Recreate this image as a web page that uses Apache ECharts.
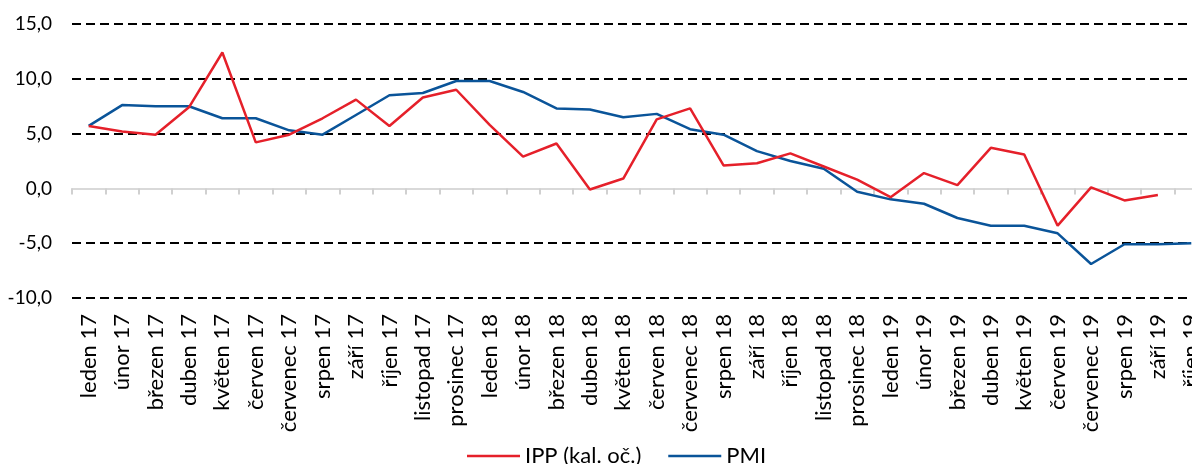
<!DOCTYPE html>
<html>
<head>
<meta charset="utf-8">
<script src="https://cdn.jsdelivr.net/npm/echarts@6/dist/echarts.min.js"></script>
<style>
html,body{margin:0;padding:0;background:#fff;}
#chart{width:1192px;height:464px;}
</style>
</head>
<body>
<div id="chart"></div>
<script>
const categories = ["leden 17","únor 17","březen 17","duben 17","květen 17","červen 17","červenec 17","srpen 17","září 17","říjen 17","listopad 17","prosinec 17",
  "leden 18","únor 18","březen 18","duben 18","květen 18","červen 18","červenec 18","srpen 18","září 18","říjen 18","listopad 18","prosinec 18",
  "leden 19","únor 19","březen 19","duben 19","květen 19","červen 19","červenec 19","srpen 19","září 19","říjen 19"];
const ipp = [5.7, 5.2, 4.9, 7.4, 12.4, 4.2, 4.9, 6.4, 8.1, 5.7, 8.3, 9.0,
  5.8, 2.9, 4.1, -0.1, 0.9, 6.3, 7.3, 2.1, 2.3, 3.2, 2.0, 0.8,
  -0.8, 1.4, 0.3, 3.7, 3.1, -3.4, 0.1, -1.1, -0.6, null];
const pmi = [5.7, 7.6, 7.5, 7.5, 6.4, 6.4, 5.3, 4.9, 6.7, 8.5, 8.7, 9.8,
  9.8, 8.8, 7.3, 7.2, 6.5, 6.8, 5.4, 4.9, 3.4, 2.5, 1.8, -0.3,
  -1.0, -1.4, -2.7, -3.4, -3.4, -4.1, -6.9, -5.1, -5.1, -5.0];
const seriesNames = ["IPP (kal. oč.)", "PMI"];
const yTicks = [-10, -5, 0, 5, 10, 15];

const chart = echarts.init(document.getElementById('chart'), null, {renderer: 'canvas'});
const font = 'Lato';
chart.setOption({
  animation: false,
  backgroundColor: '#fff',
  grid: {left: 72, top: 24, width: 1136, height: 274, outerBoundsMode: 'none', containLabel: false},
  legend: {
    left: 467, top: 445, padding: 0,
    itemWidth: 53, itemHeight: 2.5, itemGap: 27,
    textStyle: {fontFamily: font, fontSize: 22, color: '#000', lineHeight: 20},
    data: seriesNames.map(n => ({name: n, icon: 'rect'}))
  },
  xAxis: [
    {
      type: 'category', data: categories, position: 'bottom',
      axisLine: {show: false, onZero: false}, axisTick: {show: false},
      axisLabel: {rotate: 90, interval: 0, margin: 16, fontFamily: font, fontSize: 22, color: '#000'}
    },
    {
      type: 'category', data: categories, position: 'bottom',
      axisLine: {show: true, onZero: true, onZeroAxisIndex: 0, lineStyle: {color: '#d9d9d9', width: 2}},
      axisTick: {show: true, inside: false, length: 6, interval: 0, lineStyle: {color: '#d0d0d0', width: 2}},
      axisLabel: {show: false}
    }
  ],
  yAxis: {
    type: 'value', min: yTicks[0], max: yTicks[yTicks.length - 1], interval: 5,
    axisLine: {show: false}, axisTick: {show: false},
    axisLabel: {margin: 20, fontFamily: font, fontSize: 19, color: '#000',
      formatter: v => v.toFixed(1).replace('.', ',')},
    splitLine: {show: true, lineStyle: {color: yTicks.map(t => t === 0 ? 'rgba(0,0,0,0)' : '#000'), width: 2, type: [9,5]}}
  },
  series: [
    {name: seriesNames[0], type: 'line', data: ipp, symbol: 'none', xAxisIndex: 0,
     lineStyle: {color: '#E5202A', width: 2.5}, itemStyle: {color: '#E5202A'}, z: 3},
    {name: seriesNames[1], type: 'line', data: pmi, symbol: 'none', xAxisIndex: 0,
     lineStyle: {color: '#0A5499', width: 2.5}, itemStyle: {color: '#0A5499'}, z: 2}
  ]
});
</script>
</body>
</html>
